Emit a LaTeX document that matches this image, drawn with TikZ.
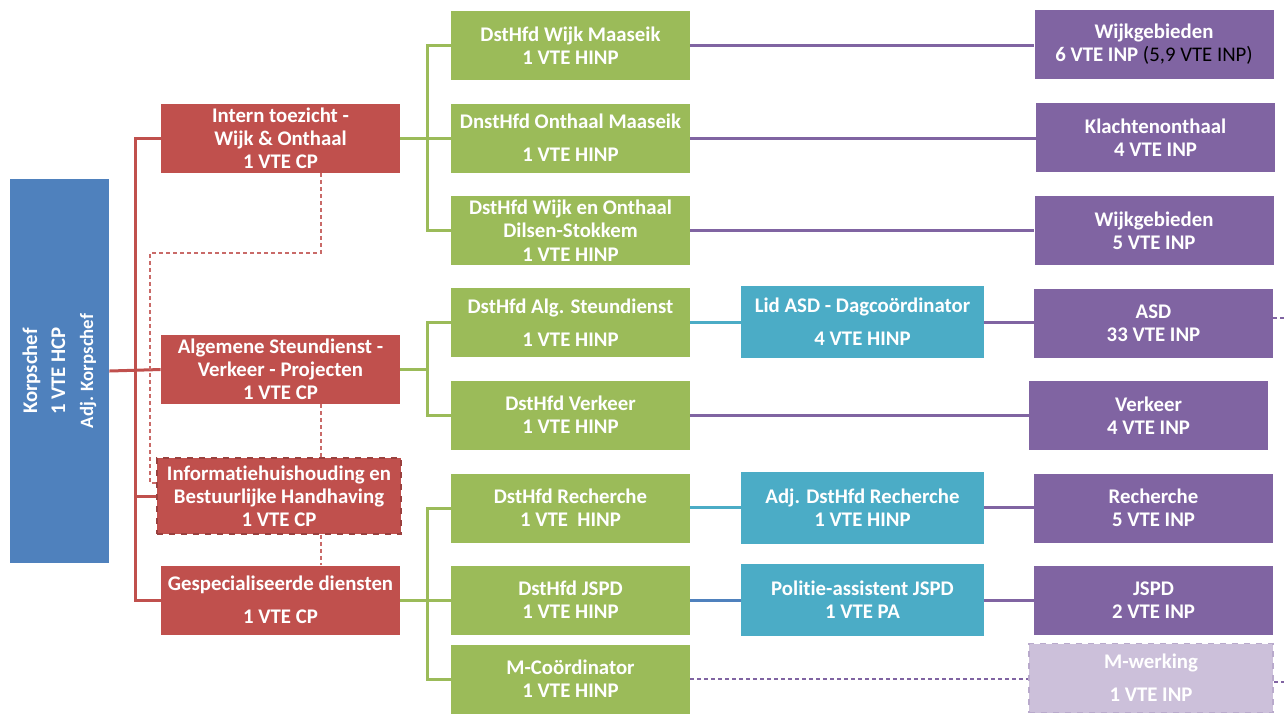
\documentclass[tikz,border=0pt]{standalone}
\usepackage{fontspec}
\setmainfont{Carlito}[Ligatures=NoCommon]
\definecolor{chefblue}{HTML}{4F81BD}
\definecolor{boxred}{HTML}{C0504D}
\definecolor{boxgreen}{HTML}{9BBB59}
\definecolor{boxteal}{HTML}{4BACC6}
\definecolor{boxpurple}{HTML}{8064A2}
\definecolor{palepurple}{HTML}{CCC0DA}
\tikzset{
  box/.style={rectangle, inner sep=0pt, align=center, text=white,
    font=\fontsize{10.4}{11.6}\selectfont\bfseries,
    minimum width=119.5pt, minimum height=34.5pt},
  redbox/.style={box, fill=boxred},
  greenbox/.style={box, fill=boxgreen},
  tealbox/.style={box, fill=boxteal, minimum width=121.5pt, minimum height=36pt},
  purplebox/.style={box, fill=boxpurple},
  redline/.style={boxred, line width=1.5pt},
  greenline/.style={boxgreen, line width=1.5pt},
  tealline/.style={boxteal, line width=1.5pt},
  purpleline/.style={boxpurple, line width=1.5pt},
  reddash/.style={boxred!85!white, line width=0.6pt, dash pattern=on 2pt off 1.5pt},
  purpledash/.style={boxpurple, line width=0.6pt, dash pattern=on 2pt off 1.5pt}
}
\begin{document}
\begin{tikzpicture}[x=0.5pt,y=-0.5pt]
        % Fix the size of the page
        \useasboundingbox (0,0) rectangle (1284,714);

        % Draw the head of the corps
        \node[box, fill=chefblue, minimum width=49.5pt, minimum height=192pt] (chef) at (59.5,371) {};
        \node[rotate=90, align=center, text=white, font=\fontsize{10.4}{14}\selectfont\bfseries] at (chef.center)
          {Korpschef\\1 VTE HCP\\\fontsize{9.4}{9.4}\selectfont Adj. Korpschef};

        % Draw the red boxes
        \node[redbox] (intern) at (280.5,138) {Intern toezicht -\\Wijk \& Onthaal\\1 VTE CP};
        \node[redbox] (alg) at (280.5,369.5) {Algemene Steundienst -\\Verkeer - Projecten\\1 VTE CP};
        \node[redbox, minimum width=122pt, minimum height=38pt, draw=boxred!80!black, dashed, line width=0.8pt] (info) at (279,496)
          {Informatiehuishouding en\\Bestuurlijke Handhaving\\1 VTE CP};
        \node[redbox] (gesp) at (280.5,600) {Gespecialiseerde diensten\\[5pt]1 VTE CP};

        % Draw the green boxes
        \node[greenbox] (wijkM) at (570.5,45.5) {DstHfd Wijk Maaseik\\1 VTE HINP};
        \node[greenbox] (onthM) at (570.5,138) {DnstHfd Onthaal Maaseik\\[5pt]1 VTE HINP};
        \node[greenbox] (dilsen) at (570.5,230.5) {DstHfd Wijk en Onthaal\\Dilsen-Stokkem\\1 VTE HINP};
        \node[greenbox] (steun) at (570.5,322.5) {DstHfd Alg. Steundienst\\[5pt]1 VTE HINP};
        \node[greenbox] (verk) at (570.5,415) {DstHfd Verkeer\\1 VTE HINP};
        \node[greenbox] (rech) at (570.5,508) {DstHfd Recherche\\1 VTE \ HINP};
        \node[greenbox] (jspd) at (570.5,600) {DstHfd JSPD\\1 VTE HINP};
        \node[greenbox] (mcoord) at (570.5,679) {M-Coördinator\\1 VTE HINP};

        % Draw the blue boxes
        \node[tealbox] (dagco) at (862.5,322) {Lid ASD - Dagcoördinator\\[5pt]4 VTE HINP};
        \node[tealbox] (adjrech) at (862.5,507.5) {Adj. DstHfd Recherche\\1 VTE HINP};
        \node[tealbox] (polass) at (862.5,600) {Politie-assistent JSPD\\1 VTE PA};

        % Draw the purple boxes
        \node[purplebox] (wijk6) at (1154,44.5) {Wijkgebieden\\6 VTE INP {\color{black}\mdseries(5,9 VTE INP)}};
        \node[purplebox] (klacht) at (1155.5,137.5) {Klachtenonthaal\\4 VTE INP};
        \node[purplebox] (wijk5) at (1154,230.5) {Wijkgebieden\\5 VTE INP};
        \node[purplebox] (asd) at (1153.5,323) {ASD\\33 VTE INP};
        \node[purplebox] (pverk) at (1148.5,415.5) {Verkeer\\4 VTE INP};
        \node[purplebox] (prech) at (1153.5,508) {Recherche\\5 VTE INP};
        \node[purplebox] (pjspd) at (1153.5,600) {JSPD\\2 VTE INP};
        \node[box, fill=palepurple, draw=boxpurple!55!white, dashed, line width=0.8pt, minimum width=122pt] (mwerk) at (1151,678)
          {M-werking\\[5pt]1 VTE INP};

        % Draw the red tree
        \coordinate (trunk) at (135,370);
        \draw[redline] (chef.east) -- (alg.west);
        \draw[redline] (intern.west) -| (trunk) |- (gesp.west);
        \draw[redline] (trunk |- info.west) -- (info.west);

        % Draw the dashed red links
        \draw[reddash] ([xshift=20.25pt]intern.south) |- (150,253) |- ([yshift=6.5pt]info.west);
        \draw[reddash] ([xshift=20.25pt]alg.south) -- ([xshift=20.25pt]alg.south |- info.north);
        \draw[reddash] ([xshift=20.25pt]alg.south |- info.south) -- ([xshift=20.25pt]gesp.north);

        % Draw the green trees
        \draw[greenline] (intern.east) -- (onthM.west);
        \draw[greenline] (intern.east) -- ++(27,0) |- (wijkM.west);
        \draw[greenline] (intern.east) -- ++(27,0) |- (dilsen.west);
        \draw[greenline] (alg.east) -- ++(27,0) |- (steun.west);
        \draw[greenline] (alg.east) -- ++(27,0) |- (verk.west);
        \draw[greenline] (gesp.east) -- (jspd.west);
        \draw[greenline] (gesp.east) -- ++(27,0) |- (rech.west);
        \draw[greenline] (gesp.east) -- ++(27,0) |- (mcoord.west);

        % Draw the blue links
        \draw[tealline] (steun.east |- dagco.west) -- (dagco.west);
        \draw[tealline] (rech.east |- adjrech.west) -- (adjrech.west);
        \draw[chefblue, line width=1.5pt] (jspd.east) -- (polass.west);

        % Draw the purple links
        \draw[purpleline] (wijkM.east) -- (wijkM.east -| wijk6.west);
        \draw[purpleline] (onthM.east) -- (onthM.east -| klacht.west);
        \draw[purpleline] (dilsen.east) -- (dilsen.east -| wijk5.west);
        \draw[purpleline] (dagco.east) -- (dagco.east -| asd.west);
        \draw[purpleline] (verk.east) -- (verk.east -| pverk.west);
        \draw[purpleline] (adjrech.east) -- (adjrech.east -| prech.west);
        \draw[purpleline] (polass.east) -- (polass.east -| pjspd.west);
        \draw[purpledash] (mcoord.east) -- (mcoord.east -| mwerk.west);

        % Dashed ends leaving the page
        \coordinate (asdout) at (1284,318);
        \coordinate (mwout) at (1284,682);
        \draw[purpledash] (asd.east |- asdout) -- (asdout);
        \draw[purpledash] (mwerk.east |- mwout) -- (mwout);

      \end{tikzpicture}
\end{document}
